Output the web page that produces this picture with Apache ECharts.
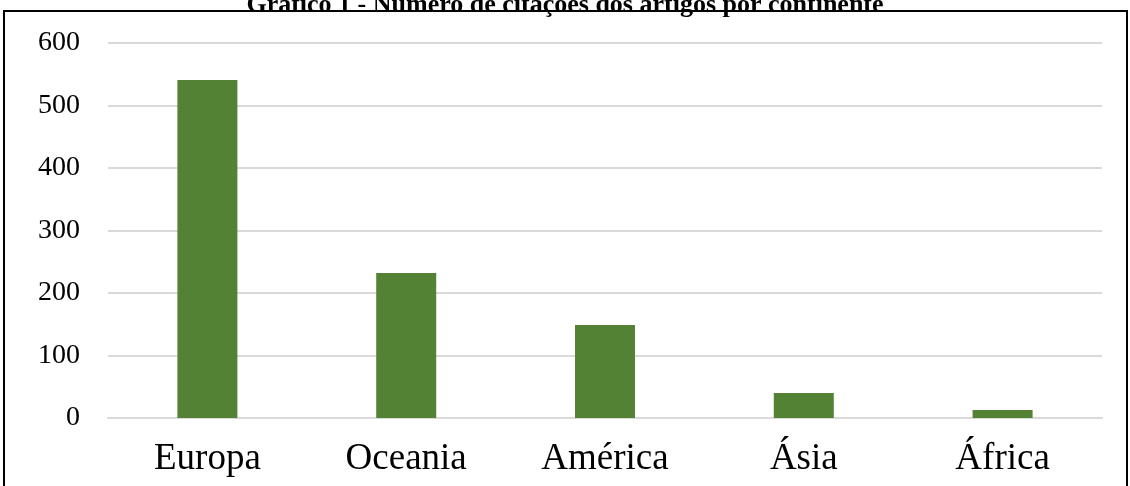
<!DOCTYPE html>
<html>
<head>
<meta charset="utf-8">
<script src="https://cdn.jsdelivr.net/npm/echarts@6/dist/echarts.min.js"></script>
<style>
  html, body { margin: 0; padding: 0; background: #fff; }
  #chart { width: 1130px; height: 486px; }
</style>
</head>
<body>
<div id="chart"></div>
<script>
  // dados
  var continentes = ['Europa', 'Oceania', 'América', 'Ásia', 'África'];
  var citacoes = [541, 232, 149, 40, 13];
  var titulo = 'Gráfico 1 - Número de citações dos artigos por continente';

  var chart = echarts.init(document.getElementById('chart'));

  var option = {
    animation: false,
    title: {
      text: titulo,
      left: 'center',
      top: -13,
      textStyle: { fontFamily: 'Liberation Serif', fontWeight: 'bold', fontSize: 26, color: '#000' }
    },
    graphic: [{
      type: 'rect',
      shape: { x: 4, y: 11, width: 1123, height: 490 },
      style: { fill: 'none', stroke: '#000', lineWidth: 2 },
      silent: true
    }],
    grid: { left: 108, right: 28, top: 43, bottom: 68 },
    xAxis: {
      type: 'category',
      data: continentes,
      axisLine: { lineStyle: { color: '#d9d9d9', width: 2 } },
      axisTick: { show: false },
      axisLabel: { fontFamily: 'Liberation Serif', fontSize: 37, color: '#000', margin: 23 }
    },
    yAxis: {
      type: 'value',
      min: 0, max: 600, interval: 100,
      axisLine: { show: false },
      axisTick: { show: false },
      splitLine: { lineStyle: { color: '#d9d9d9', width: 2 } },
      axisLabel: { fontFamily: 'Liberation Serif', fontSize: 28, color: '#000', margin: 28 }
    },
    series: [{
      type: 'bar',
      data: citacoes,
      barWidth: 60,
      itemStyle: { color: '#548235' }
    }]
  };

  chart.setOption(option);
</script>
</body>
</html>
